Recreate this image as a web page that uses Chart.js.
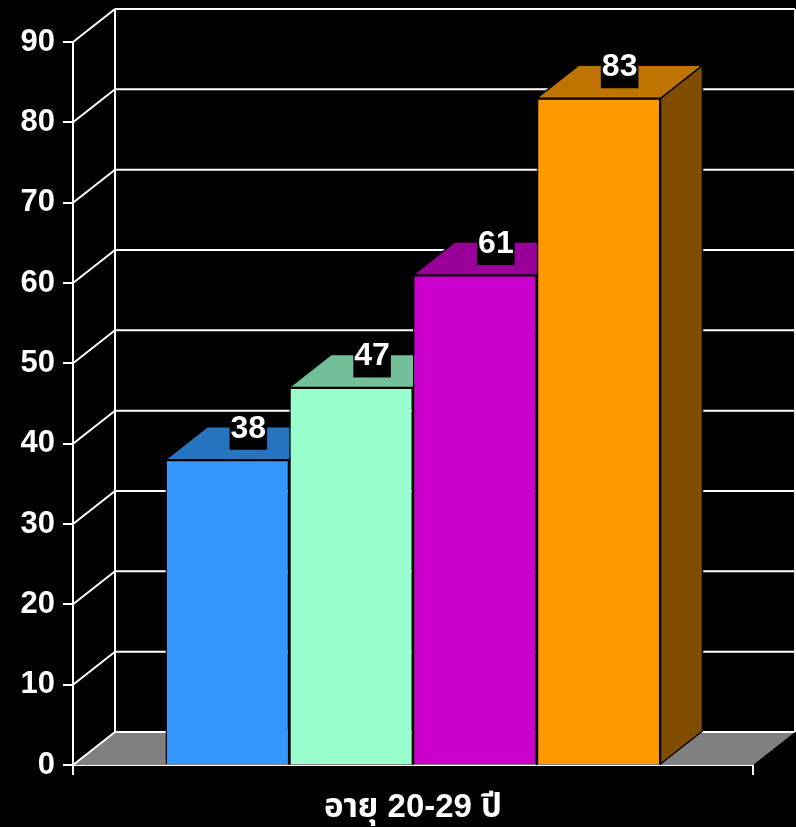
<!DOCTYPE html>
<html lang="th">
<head>
    <meta charset="UTF-8">
    <title>อายุ 20-29 ปี</title>
    <script src="https://cdn.jsdelivr.net/npm/chart.js@4.4.1/dist/chart.umd.min.js"></script>
    <style>
        html, body {
            margin: 0;
            padding: 0;
            background: #000;
        }
        canvas {
            display: block;
        }
    </style>
</head>
<body>
    <canvas id="barChart" width="796" height="827"></canvas>

    <script>
        // chart data
        const categories = ['อายุ 20-29 ปี'];
        const seriesNames = ['ชุดที่ 1', 'ชุดที่ 2', 'ชุดที่ 3', 'ชุดที่ 4'];
        const seriesValues = [38, 47, 61, 83];
        const yMin = 0;
        const yMax = 90;
        const yStep = 10;

        // bar faces: front / top / side
        const frontColors = ['#3399FF', '#99FFCC', '#CC00CC', '#FF9900'];
        const topColors = ['#2673BF', '#73BF99', '#990099', '#BF7300'];
        const sideColors = ['#1A4D80', '#4D8066', '#660066', '#7F4C00'];

        const depthX = 42;
        const depthY = 33;
        const fontFamily = '"Liberation Sans", Arial, "Noto Sans Thai", "Noto Sans", sans-serif';

        function polygon(ctx, pts, fill, stroke) {
            ctx.beginPath();
            ctx.moveTo(pts[0][0], pts[0][1]);
            for (let i = 1; i < pts.length; i++) ctx.lineTo(pts[i][0], pts[i][1]);
            ctx.closePath();
            if (fill) {
                ctx.fillStyle = fill;
                ctx.fill();
            }
            if (stroke) {
                ctx.strokeStyle = stroke;
                ctx.lineWidth = 1.5;
                ctx.stroke();
            }
        }

        function line(ctx, x1, y1, x2, y2) {
            ctx.beginPath();
            ctx.moveTo(x1, y1);
            ctx.lineTo(x2, y2);
            ctx.stroke();
        }

        // walls, floor and the top/side faces of every bar
        const threeD = {
            id: 'threeD',
            beforeDatasetsDraw(chart) {
                const ctx = chart.ctx;
                const area = chart.chartArea;
                const yScale = chart.scales.y;
                ctx.save();

                // floor
                polygon(ctx, [
                    [area.left, area.bottom],
                    [area.right, area.bottom],
                    [area.right + depthX, area.bottom - depthY],
                    [area.left + depthX, area.bottom - depthY]
                ], '#808080');

                // back wall + left wall grid
                ctx.strokeStyle = '#FFFFFF';
                ctx.lineWidth = 2;
                yScale.ticks.forEach(t => {
                    const py = yScale.getPixelForValue(t.value);
                    line(ctx, area.left + depthX, py - depthY, area.right + depthX, py - depthY);
                    line(ctx, area.left, py, area.left + depthX, py - depthY);
                });
                line(ctx, area.left + depthX, area.top - depthY, area.left + depthX, area.bottom - depthY);
                line(ctx, area.right + depthX, area.top - depthY, area.right + depthX, area.bottom - depthY);

                // top and side faces, left to right
                chart.data.datasets.forEach((ds, i) => {
                    const bar = chart.getDatasetMeta(i).data[0];
                    const p = bar.getProps(['x', 'y', 'width', 'base'], true);
                    const l = p.x - p.width / 2;
                    const r = p.x + p.width / 2;
                    polygon(ctx, [
                        [r, p.y], [r + depthX, p.y - depthY],
                        [r + depthX, p.base - depthY], [r, p.base]
                    ], sideColors[i], '#000');
                    polygon(ctx, [
                        [l, p.y], [r, p.y],
                        [r + depthX, p.y - depthY], [l + depthX, p.y - depthY]
                    ], topColors[i], '#000');
                });
                ctx.restore();
            },
            afterDatasetsDraw(chart) {
                const ctx = chart.ctx;
                ctx.save();
                ctx.font = 'bold 32px ' + fontFamily;
                ctx.textAlign = 'center';
                ctx.textBaseline = 'alphabetic';
                chart.data.datasets.forEach((ds, i) => {
                    const bar = chart.getDatasetMeta(i).data[0];
                    const text = String(ds.data[0]);
                    const cx = bar.x + depthX / 2;
                    const baseline = bar.y - 22;
                    const w = ctx.measureText(text).width + 2;
                    ctx.fillStyle = '#000';
                    ctx.fillRect(cx - w / 2, baseline - 24, w, 36);
                    ctx.fillStyle = '#FFF';
                    ctx.fillText(text, cx, baseline);
                });
                ctx.restore();
            }
        };

        const datasets = seriesValues.map((v, i) => ({
            label: seriesNames[i],
            data: [v],
            backgroundColor: frontColors[i],
            borderColor: '#000',
            borderWidth: 1.5,
            categoryPercentage: 0.728,
            barPercentage: 1
        }));

        new Chart(document.getElementById('barChart'), {
            type: 'bar',
            data: {
                labels: categories,
                datasets: datasets
            },
            options: {
                responsive: false,
                animation: false,
                layout: {
                    padding: { top: 42, right: 43, bottom: 0, left: 0 }
                },
                plugins: {
                    legend: { display: false },
                    tooltip: { enabled: false }
                },
                scales: {
                    x: {
                        afterFit(scale) { scale.height = 62; },
                        grid: {
                            drawOnChartArea: false,
                            drawTicks: true,
                            tickLength: 10,
                            color: '#FFF',
                            lineWidth: 2
                        },
                        border: { display: true, color: '#FFF', width: 2 },
                        ticks: {
                            color: '#FFF',
                            padding: 13,
                            font: { family: fontFamily, size: 33, weight: 'bold' }
                        }
                    },
                    y: {
                        min: yMin,
                        max: yMax,
                        afterFit(scale) { scale.width = 73; },
                        grid: {
                            drawOnChartArea: false,
                            drawTicks: true,
                            tickLength: 10,
                            color: '#FFF',
                            lineWidth: 2
                        },
                        border: { display: true, color: '#FFF', width: 2 },
                        ticks: {
                            stepSize: yStep,
                            color: '#FFF',
                            padding: 8,
                            font: { family: fontFamily, size: 31, weight: 'bold' }
                        }
                    }
                }
            },
            plugins: [threeD]
        });
    </script>
</body>
</html>
